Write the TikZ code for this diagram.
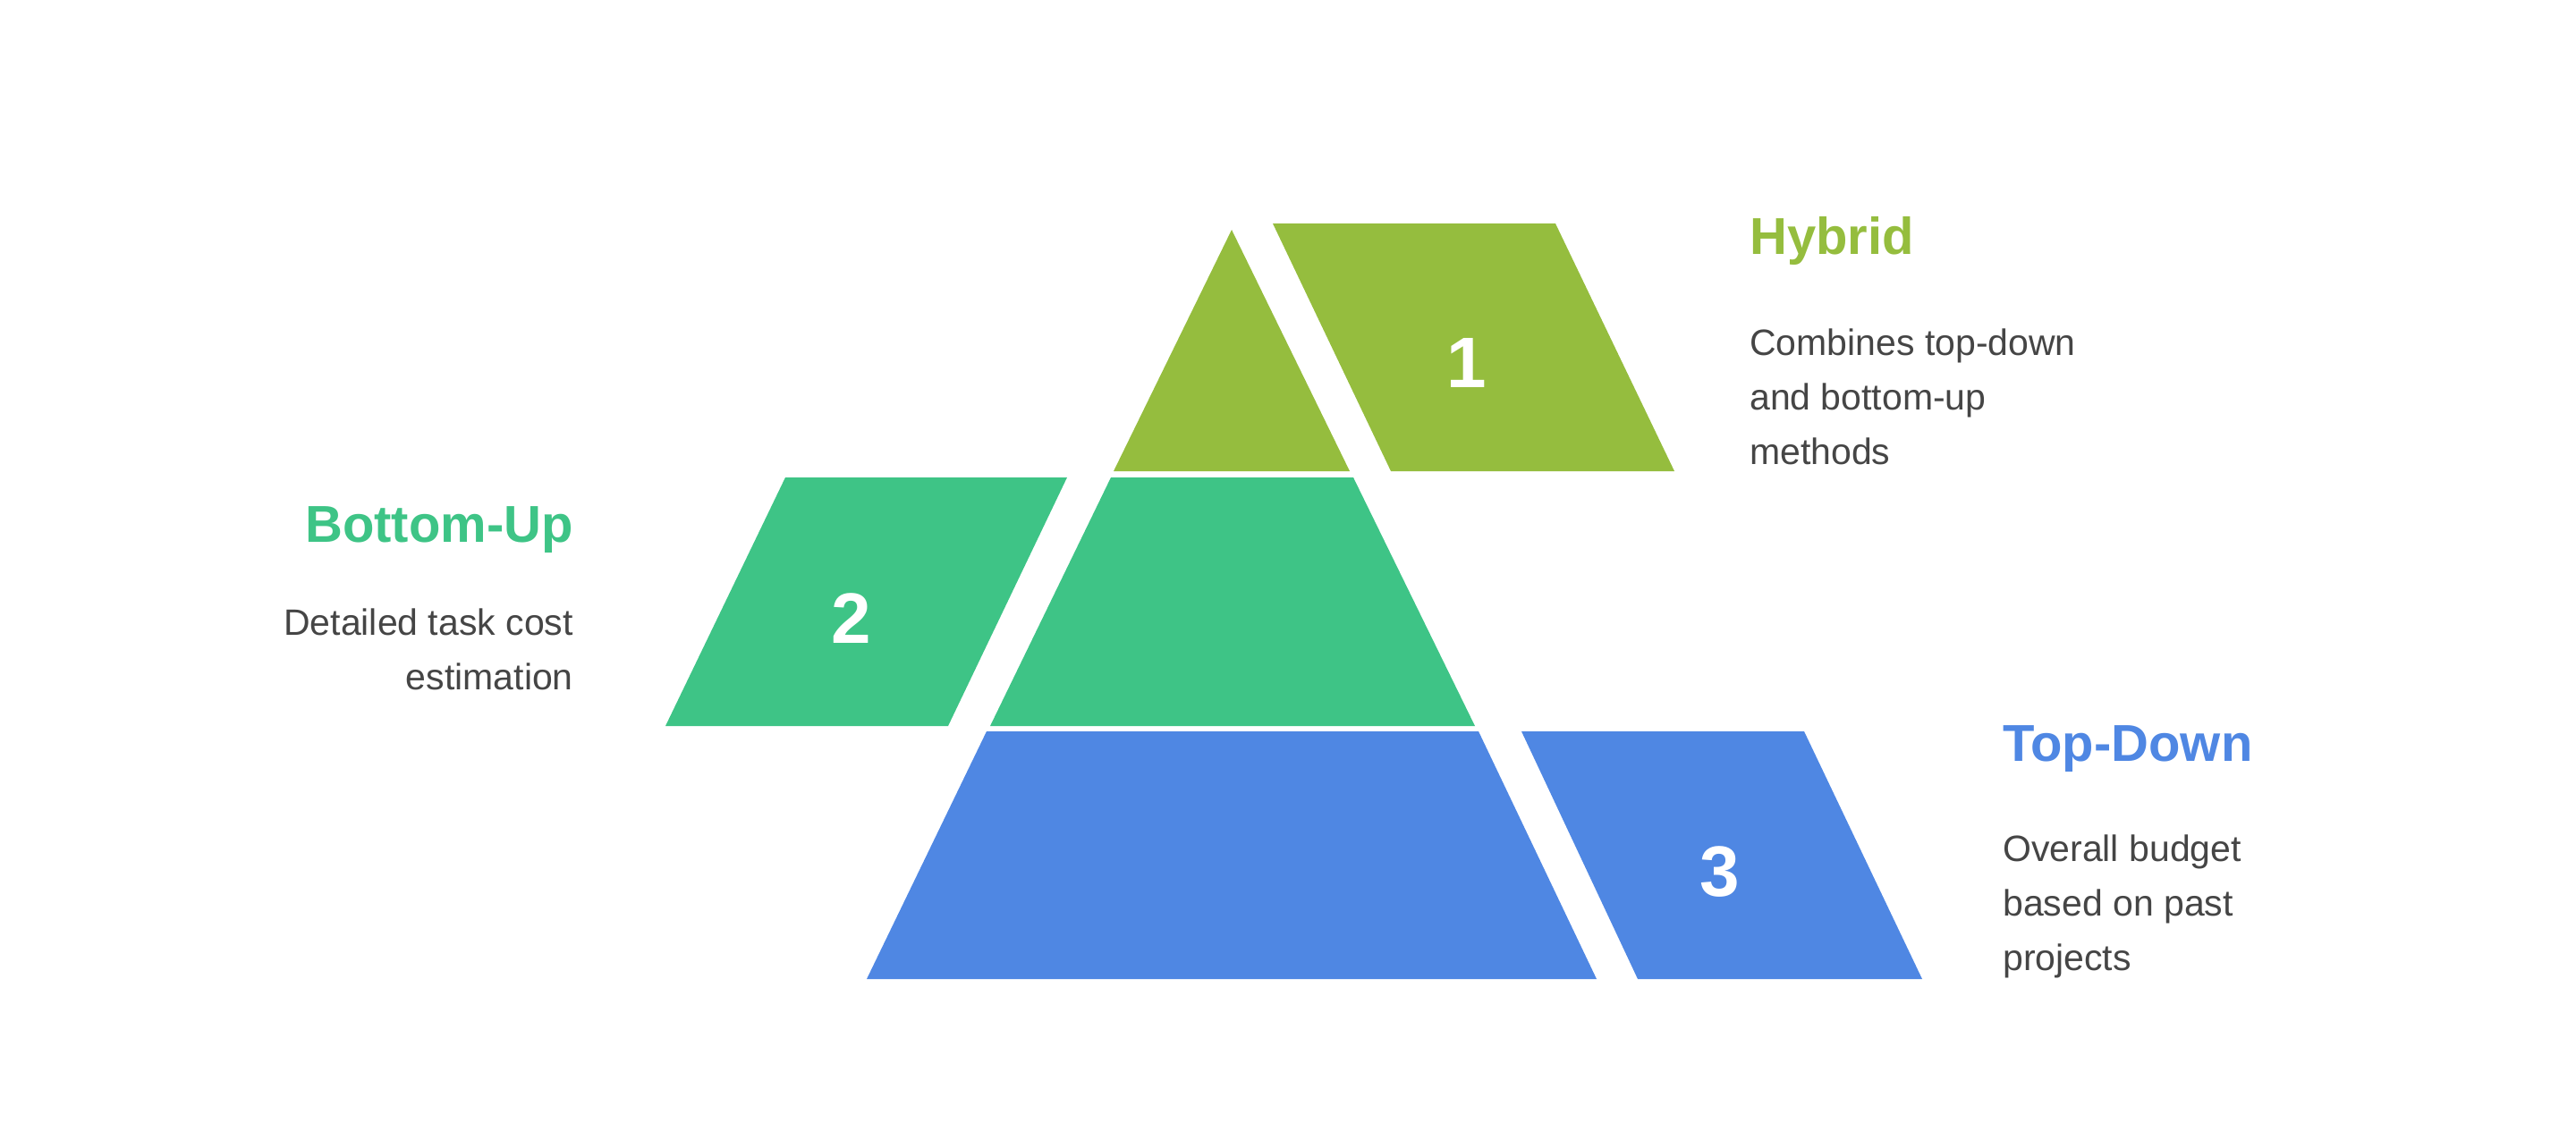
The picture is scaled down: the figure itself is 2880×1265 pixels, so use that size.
\documentclass[tikz,border=0pt]{standalone}
\usepackage{fontspec}
\setmainfont{Liberation Sans}
\definecolor{cA}{HTML}{95BD3E}
\definecolor{cB}{HTML}{3EC486}
\definecolor{cC}{HTML}{4F87E3}
\definecolor{tx}{HTML}{454545}
\begin{document}
\begin{tikzpicture}[x=1pt,y=-1pt,
  num/.style={text=white,font=\fontsize{80}{80}\selectfont\bfseries},
  ttl/.style={font=\fontsize{58}{60}\selectfont\bfseries,inner sep=0pt},
  dsc/.style={font=\fontsize{41}{61}\selectfont,text=tx,inner sep=0pt}]
\useasboundingbox (0,0) rectangle (2880,1265);
\fill[cA] (1377,257) -- (1509,527) -- (1245,527) -- cycle;
\fill[cA] (1423,250) -- (1739,250) -- (1872,527) -- (1555,527) -- cycle;
\fill[cB] (1242,534) -- (1513,534) -- (1649,812) -- (1107,812) -- cycle;
\fill[cB] (878,534) -- (1193,534) -- (1060,812) -- (744,812) -- cycle;
\fill[cC] (1103,818) -- (1653,818) -- (1785,1095) -- (969,1095) -- cycle;
\fill[cC] (1701,818) -- (2017,818) -- (2149,1095) -- (1831,1095) -- cycle;
\node[num] (n1) at (1640,406) {1};
\node[num] (n2) at (952,692) {2};
\node[num] (n3) at (1923,975) {3};
\node[ttl,text=cA,anchor=west] (t1) at (1956,270) {Hybrid};
\node[dsc,anchor=north west,align=left] (d1) at (1956,368) {Combines top-down\\and bottom-up\\methods};
\node[ttl,text=cB,anchor=east] (t2) at (641,593) {Bottom-Up};
\node[dsc,anchor=north east,align=right] (d2) at (641,681) {Detailed task cost\\estimation};
\node[ttl,text=cC,anchor=west] (t3) at (2239,838) {Top-Down};
\node[dsc,anchor=north west,align=left] (d3) at (2239,934) {Overall budget\\based on past\\projects};
\end{tikzpicture}
\end{document}
